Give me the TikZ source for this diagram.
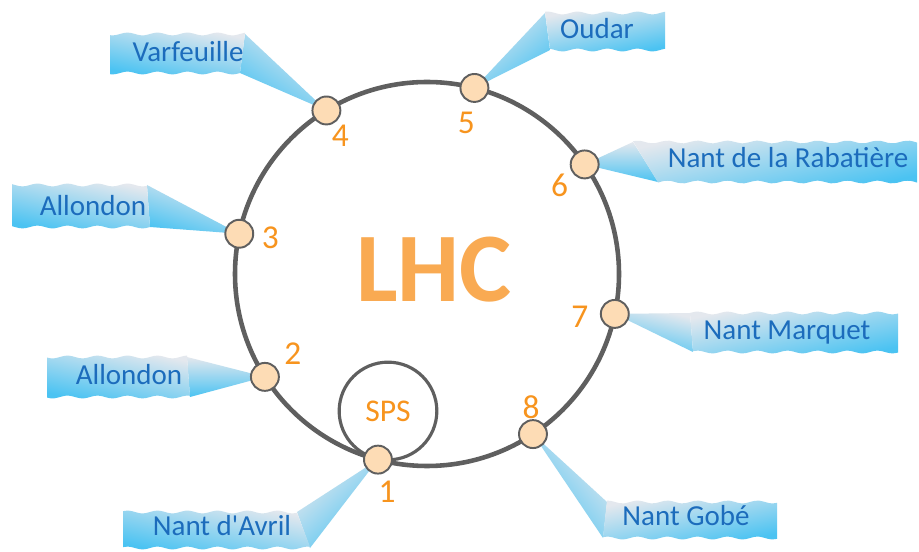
\documentclass[tikz,border=0pt]{standalone}
\usepackage{fontspec}
\setmainfont{Carlito}
\usetikzlibrary{positioning,backgrounds}

\definecolor{ringgray}{RGB}{95,95,95}
\definecolor{dotfill}{RGB}{253,220,181}
\definecolor{numorange}{RGB}{247,148,30}
\definecolor{lhcorange}{RGB}{249,170,82}
\definecolor{flagtop}{RGB}{228,232,238}
\definecolor{flagbot}{RGB}{75,195,242}
\definecolor{flagblue}{RGB}{28,108,188}

\tikzset{
  ring/.style={draw=ringgray, line width=2.6pt},
  dot/.style={circle, draw=ringgray, line width=1.1pt, fill=dotfill, minimum size=15.9pt, inner sep=0pt},
  num/.style={text=numorange, font=\fontsize{19}{19}\selectfont},
  flagtext/.style={text=flagblue, font=\fontsize{16.5}{16.5}\selectfont, anchor=base, inner sep=0pt},
  banner/.style={top color=flagtop, bottom color=flagbot, shading angle=#1},
  wedge/.style={top color=flagtop, bottom color=flagbot, shading angle=#1},
  wave/.style={samples=40, smooth}
}

\begin{document}
\begin{tikzpicture}[x=0.02cm, y=0.02cm]
        \useasboundingbox (0,0) rectangle (919,551);
        \coordinate (c) at (427,277);

        \draw[ring] (c) circle[radius=192];
        \node[circle, draw=ringgray, line width=1.8pt, minimum size=55.6pt, inner sep=0pt,
              text=numorange, font=\fontsize{18}{18}\selectfont] (sps) at (388,140) {SPS};

        \foreach \i/\a in {1/-104.8, 2/-147.6, 3/167.9, 4/121.6, 5/75.7, 6/34.8, 7/-12, 8/-56.5}
            \node[dot] (p\i) at ([shift={(\a:192)}]c) {};

        \foreach \i/\ox/\oy in {1/9/-32, 2/28/23, 3/31/-4, 4/14/-25, 5/-8/-35, 6/-25/-21, 7/-35/-3, 8/-2/27}
            \node[num] (n\i) at ([shift={(\ox,\oy)}]p\i) {\i};

        \node[text=lhcorange, font=\bfseries\fontsize{56}{56}\selectfont] (lhc) at (434,281) {LHC};

        % flags
        \begin{scope}[on background layer]
            \fill[white] (0,0) rectangle (919,551);

            \shade[wedge=-34] (245,517) -- (p4.center) -- (240,478) -- cycle;
            \shade[banner=-12] plot[wave, domain=110:240] (\x,{478+1.4*sin(12*\x)})
                -- plot[wave, domain=245:110] (\x,{517+1.4*sin(12*\x)}) -- cycle;

            \shade[wedge=38] (545,538) -- (p5.center) -- (550,501) -- cycle;
            \shade[banner=12] plot[wave, domain=550:665] (\x,{501+1.4*sin(12*\x)})
                -- plot[wave, domain=665:545] (\x,{538+1.4*sin(12*\x)}) -- cycle;

            \shade[wedge=0] (633,409) -- (p6.center) -- (658,369) -- cycle;
            \shade[banner=12] plot[wave, domain=658:917] (\x,{369+1.4*sin(12*\x)})
                -- plot[wave, domain=917:633] (\x,{409+1.4*sin(12*\x)}) -- cycle;

            \shade[wedge=-17] (147,366) -- (p3.center) -- (150,324) -- cycle;
            \shade[banner=-12] plot[wave, domain=12:150] (\x,{324+1.4*sin(12*\x)})
                -- plot[wave, domain=147:12] (\x,{366+1.4*sin(12*\x)}) -- cycle;

            \shade[wedge=0] (187,194) -- (p2.center) -- (190,154) -- cycle;
            \shade[banner=-12] plot[wave, domain=47:190] (\x,{154+1.4*sin(12*\x)})
                -- plot[wave, domain=187:47] (\x,{194+1.4*sin(12*\x)}) -- cycle;

            \shade[wedge=43] (297,39) -- (p1.center) -- (310,3) -- cycle;
            \shade[banner=-12] plot[wave, domain=123:310] (\x,{3+1.4*sin(12*\x)})
                -- plot[wave, domain=297:123] (\x,{39+1.4*sin(12*\x)}) -- cycle;

            \shade[wedge=-13] (690,238) -- (p7.center) -- (693,199) -- cycle;
            \shade[banner=12] plot[wave, domain=693:898] (\x,{199+1.4*sin(12*\x)})
                -- plot[wave, domain=898:690] (\x,{238+1.4*sin(12*\x)}) -- cycle;

            \shade[wedge=-50] (607,49) -- (p8.center) -- (603,13) -- cycle;
            \shade[banner=12] plot[wave, domain=603:777] (\x,{13+1.4*sin(12*\x)})
                -- plot[wave, domain=777:607] (\x,{49+1.4*sin(12*\x)}) -- cycle;
        \end{scope}

        \node[flagtext] (varf) at (188,489) {Varfeuille};
        \node[flagtext] (oudar) at (597,512) {Oudar};
        \node[flagtext] (rabat) at (788,383) {Nant de la Rabatière};
        \node[flagtext] (allon3) at (93,335) {Allondon};
        \node[flagtext] (allon2) at (129,166) {Allondon};
        \node[flagtext] (avril) at (222,16) {Nant d\textquotesingle Avril};
        \node[flagtext] (marq) at (787,211) {Nant Marquet};
        \node[flagtext] (gobe) at (686,26) {Nant Gobé};
    \end{tikzpicture}
\end{document}
